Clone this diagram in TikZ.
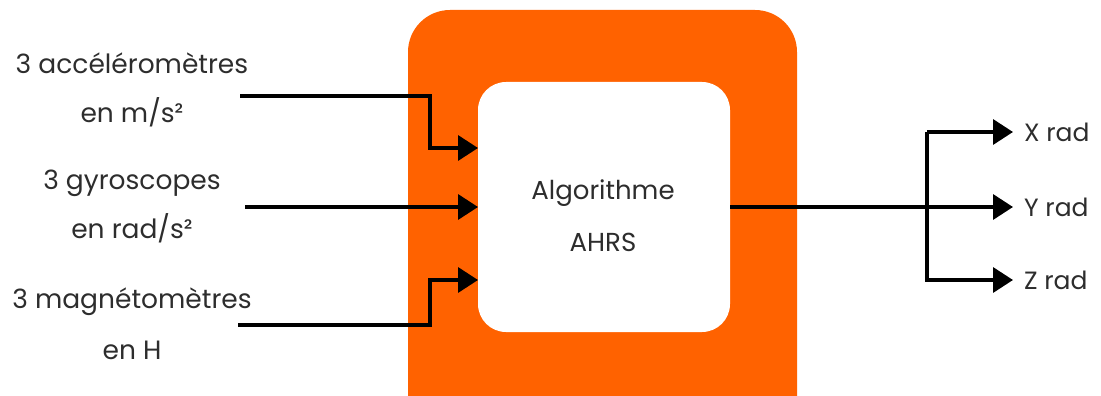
\documentclass[tikz,border=0pt]{standalone}
\usepackage{fontspec}
\setmainfont{Poppins}
\usetikzlibrary{arrows.meta}
\definecolor{ahrsorange}{RGB}{255,98,0}
\definecolor{txt}{RGB}{45,45,45}
\begin{document}
\begin{tikzpicture}[x=1pt,y=-1pt,
  lbl/.style={text=txt,font=\fontsize{26.5}{30}\selectfont,inner sep=0pt,anchor=center},
  outlbl/.style={lbl,font=\fontsize{25}{30}\selectfont,anchor=west},
  wire/.style={line width=3.5pt,draw=black},
  arr/.style={wire,-{Triangle[length=20pt,width=25pt]}}]
\useasboundingbox (0,0) rectangle (1101,396);
\clip (0,0) rectangle (1101,396);
% outer frame and inner algorithm block
\fill[ahrsorange,rounded corners=42pt] (408,10) rectangle (797,440);
\node[fill=white,rounded corners=28pt,minimum width=252pt,minimum height=250pt,inner sep=0pt] (algo) at (604,207) {};
\node[lbl,font=\fontsize{26}{30}\selectfont] (t1) at (603,193) {Algorithme};
\node[lbl,font=\fontsize{26}{30}\selectfont] (t2) at (603,242) {AHRS};
% input labels
\node[lbl] (acc1) at (132,63) {3 accéléromètres};
\node[lbl] (acc2) at (132,112) {en m/s²};
\node[lbl] (gyr1) at (132,183) {3 gyroscopes};
\node[lbl] (gyr2) at (132,228) {en rad/s²};
\node[lbl] (mag1) at (132,302) {3 magnétomètres};
\node[lbl] (mag2) at (132,350) {en H};
% output labels
\node[outlbl] (xr) at (1024,132) {X rad};
\node[outlbl] (yr) at (1024,207) {Y rad};
\node[outlbl] (zr) at (1024,280) {Z rad};
% wire end points
\coordinate (accS) at (240,96);
\coordinate (gyrS) at (245,207);
\coordinate (magS) at (238,325);
\coordinate (accE) at (478,148);
\coordinate (gyrE) at (478,207);
\coordinate (magE) at (478,280);
\coordinate (outS) at (730,207);
\coordinate (split) at (927,207);
\coordinate (xE) at (1013,132);
\coordinate (yE) at (1013,207);
\coordinate (zE) at (1013,280);
% inputs
\draw[arr] (accS) -| (430,148) -- (accE);
\draw[arr] (gyrS) -- (gyrE);
\draw[arr] (magS) -| (430,280) -- (magE);
% outputs
\draw[arr] (outS) -- (yE);
\draw[arr] (split |- xE) |- (xE);
\draw[arr] (split |- xE) |- (zE);
\end{tikzpicture}
\end{document}
